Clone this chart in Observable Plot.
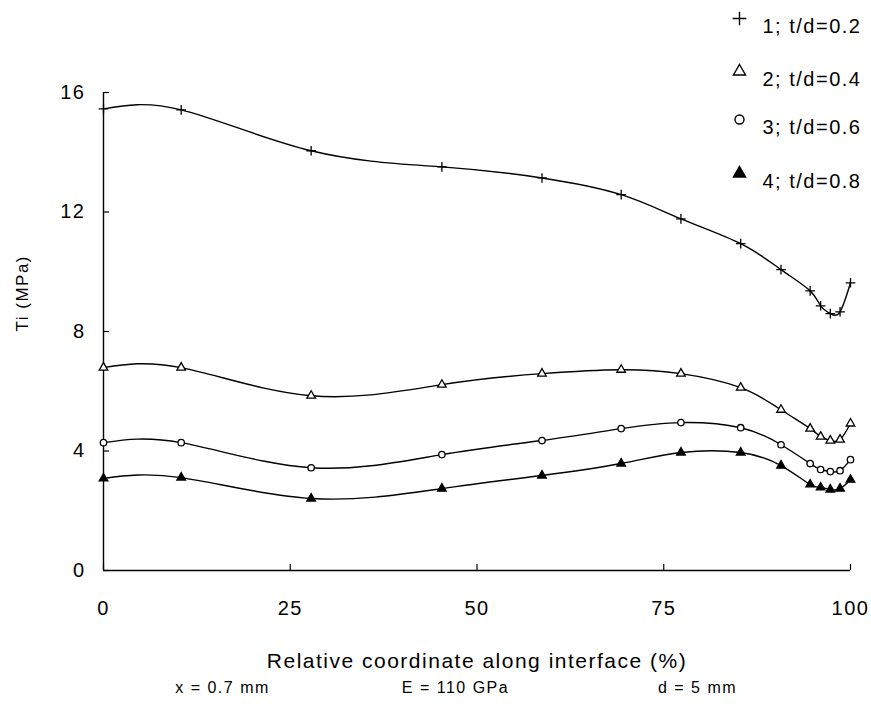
<!DOCTYPE html>
<html>
<head>
<meta charset="utf-8">
<script src="https://cdn.jsdelivr.net/npm/d3@7"></script>
<script src="https://cdn.jsdelivr.net/npm/@observablehq/plot@0.6"></script>
<style>
  html, body { margin: 0; padding: 0; background: #fff; }
  #chart svg { display: block; }
</style>
</head>
<body>
<div id="chart"></div>
<script>
// Relative coordinate along interface (%)
const xPos = [0, 10.4, 27.8, 45.3, 58.7, 69.3, 77.3, 85.3, 90.7, 94.6, 96, 97.3, 98.6, 100];
// Ti (MPa) for each t/d
const s1 = [15.45, 15.42, 14.05, 13.51, 13.14, 12.58, 11.77, 10.94, 10.07, 9.36, 8.86, 8.60, 8.66, 9.63];
const s2 = [6.79, 6.79, 5.85, 6.22, 6.59, 6.72, 6.59, 6.12, 5.38, 4.75, 4.48, 4.35, 4.38, 4.92];
const s3 = [4.28, 4.28, 3.44, 3.88, 4.35, 4.75, 4.95, 4.78, 4.21, 3.58, 3.38, 3.31, 3.34, 3.71];
const s4 = [3.08, 3.11, 2.41, 2.74, 3.18, 3.58, 3.95, 3.95, 3.51, 2.88, 2.78, 2.71, 2.74, 3.04];
const seriesNames = ["1; t/d=0.2", "2; t/d=0.4", "3; t/d=0.6", "4; t/d=0.8"];
const seriesValues = [s1, s2, s3, s4];
const xTicks = [0, 25, 50, 75, 100];
const yTicks = [0, 4, 8, 12, 16];
const notes = ["x = 0.7 mm", "E = 110 GPa", "d = 5 mm"];

const symbols = ["plus", "triangle", "circle", "triangle"];
const fills = ["none", "white", "white", "black"];

const data = seriesNames.flatMap((name, i) =>
  xPos.map((x, j) => ({series: name, idx: i, x, y: seriesValues[i][j]})));

const FONT = "Liberation Sans, Arial, sans-serif";

const legendRowY = [-74, -21, 27, 81];
const noteX = [119, 352, 594];

const legendMarks = seriesNames.flatMap((name, i) => [
  Plot.dot([name], {frameAnchor: "top-right", dx: -111, dy: legendRowY[i],
    symbol: symbols[i], fill: fills[i], stroke: "#000", strokeWidth: 1.4, r: 4.5}),
  Plot.text([name], {frameAnchor: "top-right", textAnchor: "start", dx: -88, dy: legendRowY[i], fontSize: 20})
]);
const noteMarks = notes.map((t, i) =>
  Plot.text([t], {frameAnchor: "bottom-left", dx: noteX[i], dy: 122, fontSize: 16, textAnchor: "middle"}));

const plot = Plot.plot({
  width: 871,
  height: 712,
  marginLeft: 103,
  marginRight: 21,
  marginTop: 92,
  marginBottom: 142,
  style: {fontFamily: FONT, fontSize: "20px", color: "#000", background: "#fff", letterSpacing: "1.5px"},
  x: {domain: [0, 100]},
  y: {domain: [0, 16]},
  marks: [
    Plot.ruleX([0], {stroke: "#000", strokeWidth: 1.4}),
    Plot.ruleY([0], {stroke: "#000", strokeWidth: 1.4}),
    Plot.axisX({ticks: xTicks, tickSize: -6, tickPadding: 36, label: null, fontSize: 20, strokeWidth: 1.2}),
    Plot.axisY({ticks: yTicks, tickSize: -6, tickPadding: 24, label: null, fontSize: 20, strokeWidth: 1.2}),
    Plot.line(data, {x: "x", y: "y", z: "series", curve: "natural", stroke: "#000", strokeWidth: 1.4}),
    Plot.dot(data, {x: "x", y: "y", symbol: d => symbols[d.idx], fill: d => fills[d.idx],
      stroke: "#000", strokeWidth: 1.3, r: 3.2}),
    Plot.text(["Ti (MPa)"], {frameAnchor: "left", dx: -81, rotate: -90, fontSize: 17}),
    Plot.text(["Relative coordinate along interface (%)"], {frameAnchor: "bottom", dy: 97, fontSize: 21}),
    ...noteMarks,
    ...legendMarks
  ]
});
plot.setAttribute("font-family", FONT);
document.getElementById("chart").append(plot);
</script>
</body>
</html>
